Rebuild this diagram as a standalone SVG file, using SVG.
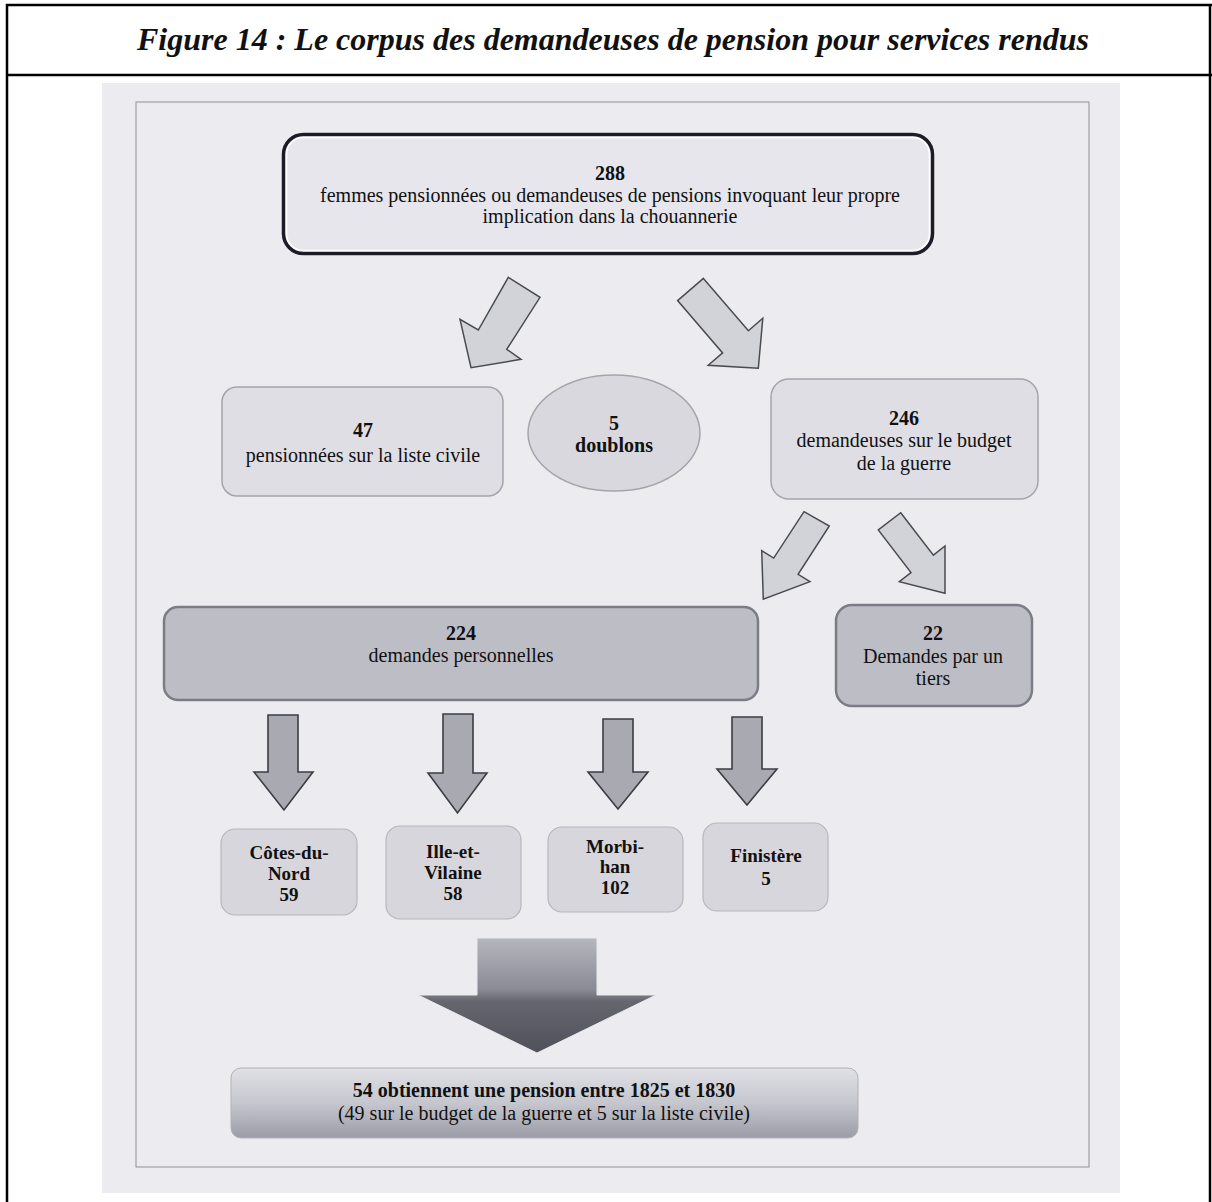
<svg xmlns="http://www.w3.org/2000/svg" width="1212" height="1202" viewBox="0 0 1212 1202">
<defs>
<style>
text{font-family:"Liberation Serif","Times New Roman",serif;fill:#111;text-anchor:middle}
.t{font-size:20px}
.b{font-size:20px;font-weight:bold}
.s{font-size:19px;font-weight:bold}
.frame{fill:none;stroke:#000;stroke-width:2.5}
.box{fill:#dedee4;stroke:#a4a4ac;stroke-width:1.5}
.dark{fill:#bdbdc5;stroke:#7c7c86;stroke-width:2.5}
.dept{fill:#d6d6dc;stroke:#b6b6be;stroke-width:1.2}
.diag{fill:#d2d2d9;stroke:#4a4a52;stroke-width:1.5;stroke-linejoin:miter}
.down{fill:#a9a9b1;stroke:#3c3c44;stroke-width:1.6}
</style>
<linearGradient id="bigArrow" x1="0" y1="0" x2="0" y2="1">
<stop offset="0" stop-color="#b6b6be"/>
<stop offset="0.45" stop-color="#8a8a95"/>
<stop offset="0.55" stop-color="#66666f"/>
<stop offset="1" stop-color="#50505a"/>
</linearGradient>
<linearGradient id="pensionGrad" x1="0" y1="0" x2="0" y2="1">
<stop offset="0" stop-color="#e0e0e6"/>
<stop offset="0.5" stop-color="#c6c6ce"/>
<stop offset="1" stop-color="#9c9ca8"/>
</linearGradient>
</defs>

<rect width="1212" height="1202" fill="#fff"/>

<g id="outer-frame">
<line class="frame" x1="6" y1="5" x2="1212" y2="5"/>
<line class="frame" x1="7" y1="4" x2="7" y2="1202"/>
<line class="frame" x1="1210" y1="4" x2="1210" y2="1202"/>
<line class="frame" x1="6" y1="75" x2="1212" y2="75"/>
</g>

<g id="title">
<text x="613" y="50" style="font-size:32px;font-weight:bold;font-style:italic">Figure 14 : Le corpus des demandeuses de pension pour services rendus</text>
</g>

<g id="scan">
<rect x="102" y="83" width="1018" height="1110" fill="#ececf0"/>
<rect x="136" y="102" width="953" height="1065" fill="none" stroke="#8e8e96" stroke-width="1"/>
</g>

<g id="connectors">
<polygon class="diag" points="508.3,277.3 540,297.3 506.7,349.3 521,359.3 471,367.7 460,319.3 478.3,330"/>
<polygon class="diag" points="703.4,278.4 748.4,330.7 762.8,318.3 758.3,368.3 708.2,365.3 722.6,352.9 677.6,300.6"/>
<polygon class="diag" points="804,511.7 829.3,526 798.1,574.3 810,581.7 763.3,599.3 761.7,550.7 773.7,558.1"/>
<polygon class="diag" points="900.7,512.7 933.4,555.2 945,546 945,593.3 899.3,581.7 911,572.6 878.3,530"/>
<polygon class="down" points="268,715 298,715 298,772 313,772 284,810 254,772 268,772"/>
<polygon class="down" points="443,714 473,714 473,773 487,773 457.5,813 428,773 443,773"/>
<polygon class="down" points="603,719 633,719 633,772 648,772 618,809 588,772 603,772"/>
<polygon class="down" points="732,717 762,717 762,769 777,769 747,805 717,769 732,769"/>
<polygon points="477,938 597,938 597,995 656,995 537,1053 418,995 477,995" fill="url(#bigArrow)" stroke="#e8e8ee" stroke-width="1"/>
</g>

<g id="node-288">
<rect x="283.5" y="134.5" width="649" height="119" rx="20" fill="#e6e6ec" stroke="#1c1c28" stroke-width="3.5"/>
<rect x="286.5" y="137.5" width="643" height="113" rx="17" fill="none" stroke="#fff" stroke-width="1.5"/>
<text class="b" x="610" y="180">288</text>
<text class="t" x="610" y="202">femmes pensionnées ou demandeuses de pensions invoquant leur propre</text>
<text class="t" x="610" y="223">implication dans la chouannerie</text>
</g>

<g id="node-47">
<rect class="box" x="222" y="387" width="281" height="109" rx="15"/>
<text class="b" x="363" y="437">47</text>
<text class="t" x="363" y="462">pensionnées sur la liste civile</text>
</g>

<g id="node-doublons">
<ellipse cx="614" cy="433" rx="86" ry="58" fill="#d8d8de" stroke="#a4a4ac" stroke-width="1.5"/>
<text class="b" x="614" y="430">5</text>
<text class="b" x="614" y="452">doublons</text>
</g>

<g id="node-246">
<rect class="box" x="771" y="379" width="267" height="120" rx="18"/>
<text class="b" x="904" y="425">246</text>
<text class="t" x="904" y="447">demandeuses sur le budget</text>
<text class="t" x="904" y="470">de la guerre</text>
</g>

<g id="node-224">
<rect class="dark" x="164" y="607" width="594" height="93" rx="14"/>
<text class="b" x="461" y="640">224</text>
<text class="t" x="461" y="662">demandes personnelles</text>
</g>

<g id="node-22">
<rect class="dark" x="836" y="605" width="196" height="101" rx="16"/>
<text class="b" x="933" y="640">22</text>
<text class="t" x="933" y="663">Demandes par un</text>
<text class="t" x="933" y="685">tiers</text>
</g>

<g id="node-cotes-du-nord">
<rect class="dept" x="221" y="829" width="136" height="86" rx="14"/>
<text class="s" x="289" y="859">Côtes-du-</text>
<text class="s" x="289" y="880">Nord</text>
<text class="s" x="289" y="901">59</text>
</g>

<g id="node-ille-et-vilaine">
<rect class="dept" x="386" y="826" width="135" height="93" rx="14"/>
<text class="s" x="453" y="858">Ille-et-</text>
<text class="s" x="453" y="879">Vilaine</text>
<text class="s" x="453" y="900">58</text>
</g>

<g id="node-morbihan">
<rect class="dept" x="548" y="827" width="135" height="85" rx="14"/>
<text class="s" x="615" y="853">Morbi-</text>
<text class="s" x="615" y="873">han</text>
<text class="s" x="615" y="894">102</text>
</g>

<g id="node-finistere">
<rect class="dept" x="703" y="823" width="125" height="88" rx="14"/>
<text class="s" x="766" y="862">Finistère</text>
<text class="s" x="766" y="885">5</text>
</g>

<g id="node-54">
<rect x="231" y="1068" width="627" height="70" rx="10" fill="url(#pensionGrad)" stroke="#b0b0b8" stroke-width="1"/>
<text class="b" x="544" y="1097">54 obtiennent une pension entre 1825 et 1830</text>
<text class="t" x="544" y="1120">(49 sur le budget de la guerre et 5 sur la liste civile)</text>
</g>
</svg>
